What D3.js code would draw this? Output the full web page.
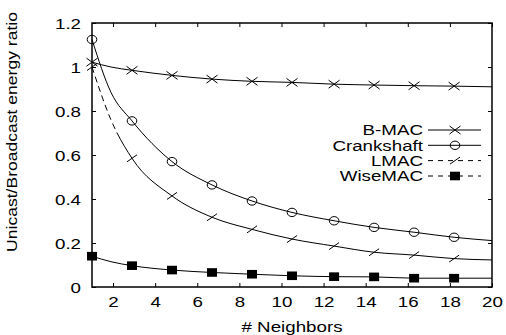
<!DOCTYPE html>
<html>
<head>
<meta charset="utf-8">
<script src="https://cdn.jsdelivr.net/npm/d3@7"></script>
<style>
  body { margin: 0; background: #fff; }
  svg { display: block; }
  text { font-family: "Liberation Sans", Arial, sans-serif; font-size: 15px; fill: #000; }
</style>
</head>
<body>
<div id="chart"></div>
<script>
// energy ratio vs number of neighbors, four MAC protocols

const neighbors = [1, 1.9, 2.9, 4.8, 6.7, 8.6, 10.5, 12.5, 14.4, 16.3, 18.2, 20];
// markers are only drawn on these points (gnuplot point interval)
const markerIdx = [0, 2, 3, 4, 5, 6, 7, 8, 9, 10];

const bmac       = [1.022, 1.0, 0.985, 0.962, 0.945, 0.935, 0.93, 0.922, 0.918, 0.915, 0.913, 0.91];
const crankshaft = [1.125, 0.885, 0.755, 0.57, 0.464, 0.391, 0.339, 0.301, 0.271, 0.249, 0.226, 0.211];
const lmac       = [1.0, 0.76, 0.585, 0.414, 0.317, 0.262, 0.218, 0.186, 0.158, 0.145, 0.129, 0.123];
const wisemac    = [0.14, 0.115, 0.097, 0.077, 0.066, 0.058, 0.051, 0.047, 0.046, 0.04, 0.04, 0.04];

const seriesNames = ["B-MAC", "Crankshaft", "LMAC", "WiseMAC"];
const xTicks = [2, 4, 6, 8, 10, 12, 14, 16, 18, 20];
const yTicks = [0, 0.2, 0.4, 0.6, 0.8, 1, 1.2];

const width = 506, height = 335;
const plotLeft = 92, plotRight = 492, plotTop = 23, plotBottom = 287;
const stretch = 1.25; // the fonts in the original are wider than usual

const svg = d3.select("#chart").append("svg")
    .attr("width", width)
    .attr("height", height);

const x = d3.scaleLinear().domain([1, 20]).range([plotLeft, plotRight]);
const y = d3.scaleLinear().domain([0, 1.2]).range([plotBottom, plotTop]);

// axes, ticks point inward on all four sides
function styleAxis(g) {
    g.select(".domain").remove();
    g.selectAll(".tick line").attr("stroke", "#000").attr("stroke-width", 1);
}

svg.append("g")
    .attr("transform", `translate(0,${plotBottom})`)
    .call(d3.axisBottom(x).tickValues(xTicks).tickSize(-4).tickFormat(d3.format("d")))
    .call(styleAxis)
    .call(g => g.selectAll(".tick text")
        .attr("y", 20.5).attr("dy", 0)
        .attr("transform", `scale(${stretch},1)`)
        .attr("fill", "#000"));

svg.append("g")
    .attr("transform", `translate(0,${plotTop})`)
    .call(d3.axisTop(x).tickValues(xTicks).tickSize(-4).tickFormat(""))
    .call(styleAxis);

svg.append("g")
    .attr("transform", `translate(${plotLeft},0)`)
    .call(d3.axisLeft(y).tickValues(yTicks).tickSize(-4).tickFormat(d => d === 0 || d === 1 ? d3.format("d")(d) : d3.format(".1f")(d)))
    .call(styleAxis)
    .call(g => g.selectAll(".tick text")
        .attr("x", -11 / stretch).attr("dy", 5.3)
        .attr("transform", `scale(${stretch},1)`)
        .attr("fill", "#000"));

svg.append("g")
    .attr("transform", `translate(${plotRight},0)`)
    .call(d3.axisRight(y).tickValues(yTicks).tickSize(-4).tickFormat(""))
    .call(styleAxis);

// the axis groups set their own font, use ours
svg.selectAll("g").attr("font-family", null).attr("font-size", null);

// frame
svg.append("rect")
    .attr("x", plotLeft).attr("y", plotTop)
    .attr("width", plotRight - plotLeft).attr("height", plotBottom - plotTop)
    .attr("fill", "none").attr("stroke", "#000").attr("stroke-width", 1.5);

// axis titles
svg.append("text")
    .attr("transform", `translate(${(plotLeft + plotRight) / 2},332) scale(${stretch},1)`)
    .attr("text-anchor", "middle")
    .text("# Neighbors");

svg.append("text")
    .attr("transform", `translate(17,132) rotate(-90) scale(1.17,1)`)
    .attr("text-anchor", "middle")
    .text("Unicast/Broadcast energy ratio");

// marker shapes
function drawMarker(g, kind, cx, cy) {
    if (kind === "cross") {
        g.append("path")
            .attr("d", `M${cx - 5.5},${cy - 4}L${cx + 5.5},${cy + 4}M${cx - 5.5},${cy + 4}L${cx + 5.5},${cy - 4}`)
            .attr("stroke", "#000").attr("stroke-width", 1).attr("fill", "none");
    } else if (kind === "circle") {
        g.append("ellipse")
            .attr("cx", cx).attr("cy", cy).attr("rx", 4.8).attr("ry", 4.2)
            .attr("stroke", "#000").attr("stroke-width", 1).attr("fill", "none");
    } else if (kind === "slash") {
        g.append("path")
            .attr("d", `M${cx - 5},${cy + 3.5}L${cx + 5},${cy - 3.5}`)
            .attr("stroke", "#000").attr("stroke-width", 1).attr("fill", "none");
    } else if (kind === "square") {
        g.append("rect")
            .attr("x", cx - 5).attr("y", cy - 4.3).attr("width", 10).attr("height", 8.6)
            .attr("fill", "#000");
    }
}

const series = [
    { name: seriesNames[0], values: bmac, marker: "cross", dash: null, legendDash: null },
    { name: seriesNames[1], values: crankshaft, marker: "circle", dash: null, legendDash: null },
    // long dashes only show on the steep start of the LMAC curve
    { name: seriesNames[2], values: lmac, marker: "slash", dash: "6,4,6,4,6,4,6,4,6,4,6,4,6,4,2000,1", legendDash: "5,5" },
    { name: seriesNames[3], values: wisemac, marker: "square", dash: null, legendDash: "5,5" }
];

const line = d3.line()
    .x((d, i) => x(neighbors[i]))
    .y(d => y(d))
    .curve(d3.curveMonotoneX);

const plot = svg.append("g");

series.forEach(s => {
    plot.append("path")
        .attr("d", line(s.values))
        .attr("fill", "none")
        .attr("stroke", "#000")
        .attr("stroke-width", 1)
        .attr("stroke-dasharray", s.dash);

    markerIdx.forEach(i => drawMarker(plot, s.marker, x(neighbors[i]), y(s.values[i])));
});

// legend
const legend = svg.append("g");
const legendRows = [130, 145.3, 160.6, 176];
series.forEach((s, k) => {
    const ly = legendRows[k];
    legend.append("text")
        .attr("transform", `translate(423,${ly + 5.3}) scale(${stretch},1)`)
        .attr("text-anchor", "end")
        .text(s.name);
    legend.append("line")
        .attr("x1", 428).attr("x2", 481)
        .attr("y1", ly).attr("y2", ly)
        .attr("stroke", "#000").attr("stroke-width", 1)
        .attr("stroke-dasharray", s.legendDash);
    drawMarker(legend, s.marker, 455, ly);
});
</script>
</body>
</html>
